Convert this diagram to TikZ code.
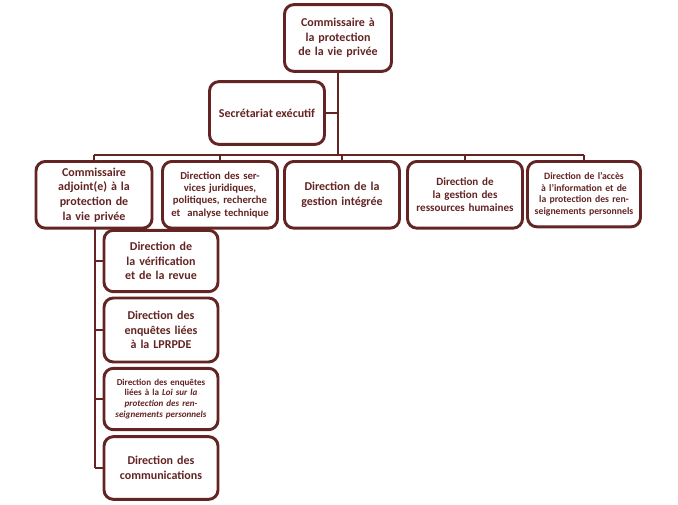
\documentclass[tikz,border=0pt]{standalone}
\usepackage{fontspec}
\setmainfont{Carlito}
\definecolor{maroon}{RGB}{99,36,35}
\tikzset{every picture/.style={line width=0.75pt}}
\tikzset{
  unit/.style={draw=maroon, line width=2.2pt, rounded corners=7pt, fill=white,
    text=maroon, font=\bfseries\fontsize{9}{11}\selectfont, align=center,
    inner sep=1pt, minimum width=#1*0.75pt},
  unit/.default=114,
  link/.style={draw=maroon, line width=2.2pt},
  small/.style={font=\bfseries\fontsize{7.3}{8.6}\selectfont}
}
\begin{document}
\begin{tikzpicture}[x=0.75pt,y=0.75pt,yscale=-1,xscale=1]
        \useasboundingbox (0,0) rectangle (678,504);

        % Commissaire
        \node [unit=107, minimum height=50pt, text width=76pt] (comm) at (338,38) {Commissaire à la protection de la vie privée};
        % Secretariat
        \node [unit=115, minimum height=47pt] (secr) at (267,113) {Secrétariat exécutif};
        % Bus
        \coordinate (bus) at (338,155);
        \coordinate (busL) at (94,155);
        \coordinate (busR) at (584,155);
        \coordinate (secrJ) at (338,113);
        \draw [link] (comm.south) -- (bus);
        \draw [link] (secr.east) -- (secrJ);
        \draw [link] (busL) -- (busR);

        % Directions
        \node [unit=116, minimum height=50pt, text width=80pt, anchor=north] (adj) at (94,160) {Commissaire adjoint(e) à la protection de la vie privée};
        \node [unit=115, minimum height=50pt, text width=82pt, anchor=north, font=\bfseries\fontsize{8}{9.3}\selectfont] (jur) at (220,160) {Direction des services juridiques, politiques, recherche et~ analyse technique};
        \node [unit=115, minimum height=50pt, text width=80pt, anchor=north] (gest) at (342,160) {Direction de la gestion intégrée};
        \node [unit=115, minimum height=50pt, text width=82pt, anchor=north, font=\bfseries\fontsize{8.3}{9.6}\selectfont] (rh) at (465,160) {Direction de la gestion des ressources humaines};
        \node [unit=113, minimum height=49pt, text width=82pt, anchor=north, small] (acces) at (584,160) {Direction de l'accès à l'information et de la protection des renseignements personnels};
        \foreach \n/\x in {adj/94,jur/220,gest/342,rh/465,acces/584}
          \draw [link] (\n.north) -- (\x,155);

        % Sous-directions
        \node [unit=114, minimum height=46pt, text width=80pt] (verif) at (161,261) {Direction de la vérification et de la revue};
        \node [unit=114, minimum height=48pt, text width=80pt] (lprpde) at (161,330) {Direction des enquêtes liées à la LPRPDE};
        \node [unit=114, minimum height=46pt, text width=76pt, small, font=\bfseries\fontsize{6.8}{8.2}\selectfont] (loi) at (161,399) {Direction des enquêtes liées à la \textit{Loi sur la protection des renseignements personnels}};
        \node [unit=114, minimum height=47pt, text width=80pt] (commu) at (161,468) {Direction des communications};
        \coordinate (subE) at (95,468);
        \draw [link] (95,227) -- (subE);
        \foreach \n in {verif,lprpde,loi,commu}
          \draw [link] (\n.west) -- (\n.west -| subE);
\end{tikzpicture}
\end{document}
